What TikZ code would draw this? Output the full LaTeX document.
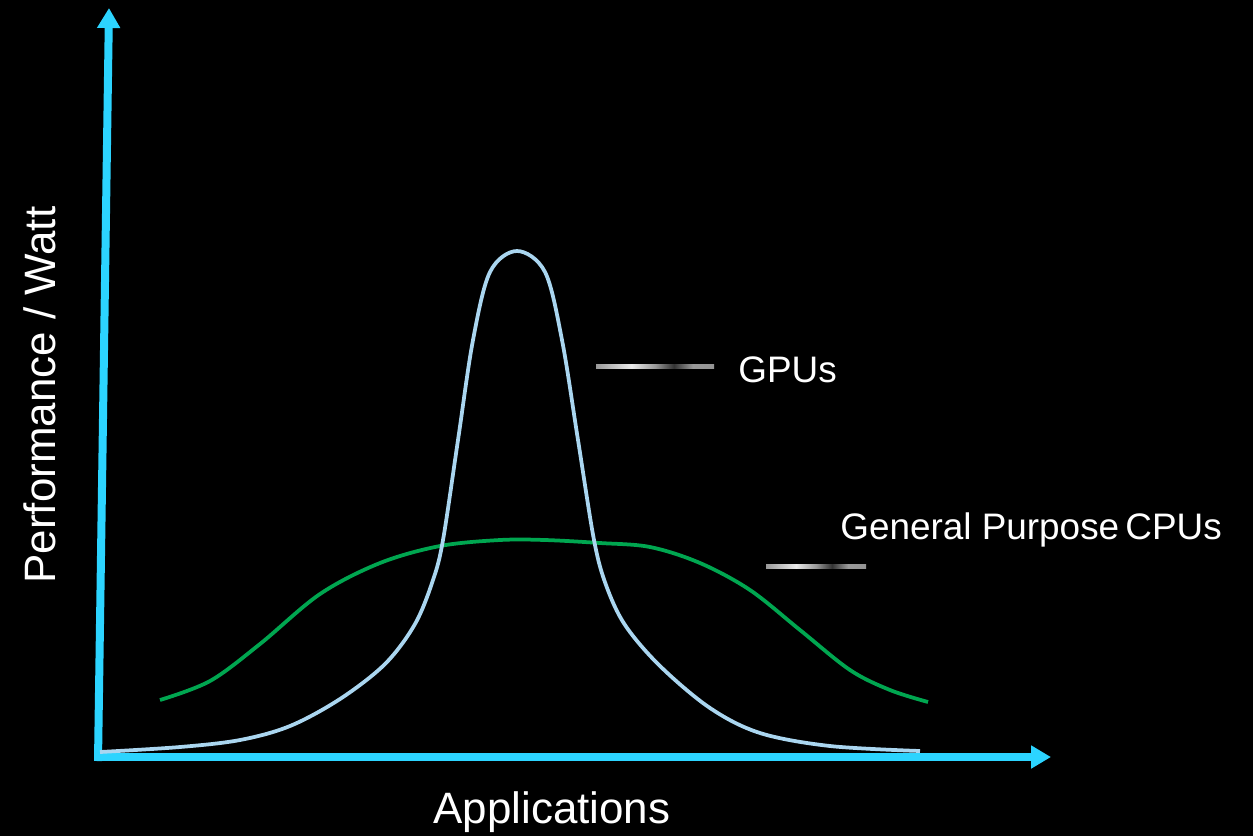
\documentclass[tikz,border=0pt]{standalone}
\usepackage{fontspec}
\setmainfont{Liberation Sans}
\usetikzlibrary{arrows.meta}
\definecolor{axiscyan}{RGB}{44,212,255}
\definecolor{gpublue}{RGB}{170,214,240}
\definecolor{cpugreen}{RGB}{0,166,80}
\pgfdeclarehorizontalshading{keyline}{100bp}{
  color(0bp)=(black!45);
  color(25bp)=(black!40);
  color(40bp)=(black!8);
  color(50bp)=(black!40);
  color(58bp)=(black!80);
  color(66bp)=(black!40);
  color(75bp)=(black!42);
  color(100bp)=(black!40)}
\tikzset{
  axis/.style={axiscyan, line width=0.16cm, -{Triangle[width=0.44cm,length=0.4cm]}},
  lbl/.style={text=white, font=\fontsize{21pt}{25pt}\selectfont, inner sep=0pt},
  axlbl/.style={lbl, font=\fontsize{25pt}{30pt}\selectfont},
  key/.style={shading=keyline, draw=none},
  curve/.style={line width=0.075cm, smooth, tension=0.55}
}
\begin{document}
% one unit = 0.02cm, y grows downward
\begin{tikzpicture}[x=0.02cm, y=-0.02cm]
\useasboundingbox (0,0) rectangle (1253,836);
\fill[black] (0,0) rectangle (1253,836);

% axes
\coordinate (origin) at (98,757);
\coordinate (ybase) at (98,761);
\coordinate (xbase) at (94,757);
\coordinate (ytop) at (109,8);
\coordinate (xend) at (1051,757);
\draw[axis] (ybase) -- (ytop);
\draw[axis] (xbase) -- (xend);

% CPU curve
\draw[cpugreen, curve] plot coordinates {
  (160,700) (210,681) (260,644) (320,594) (380,563) (440,546)
  (500,540) (545,540) (600,543) (650,547) (700,563) (750,590)
  (800,630) (850,670) (890,690) (928,702)};

% GPU curve
\draw[gpublue, curve] plot coordinates {
  (100,752) (180,747) (240,740) (290,726) (340,699) (385,664)
  (415,624) (433,580) (443,540) (458,440) (473,340) (490,272) (517,251)
  (545,272) (562,340) (578,440) (594,540) (606,585) (625,625) (660,666)
  (710,708) (760,733) (830,746) (920,751)};

% legend keys
\shade[key] (596,364) rectangle (714,368);
\shade[key] (766,564) rectangle (866,568);

% labels
\node[lbl, anchor=west] (gpu) at (738,370) {GPUs};
\node[lbl, anchor=west] (cpu) at (840,530) {General Purpose\,CPUs};
\node[axlbl] (xlab) at (552,812) {Applications};
\node[axlbl, rotate=90] (ylab) at (40,395) {Performance / Watt};
\end{tikzpicture}
\end{document}
